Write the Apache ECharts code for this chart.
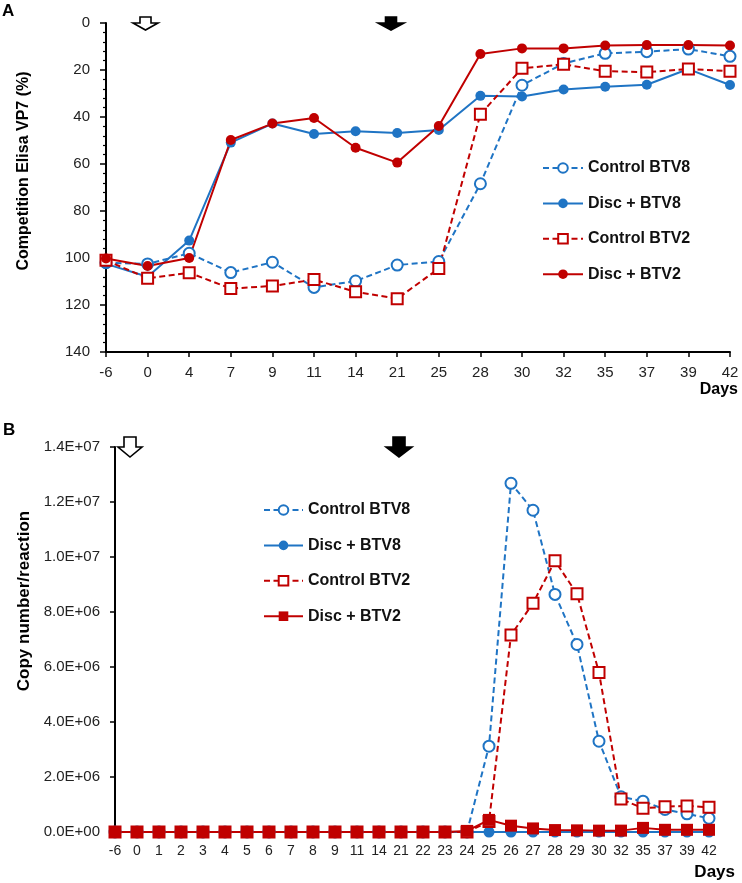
<!DOCTYPE html>
<html>
<head>
<meta charset="utf-8">
<script src="https://cdn.jsdelivr.net/npm/echarts@6/dist/echarts.min.js"></script>
<style>
html,body{margin:0;padding:0;background:#fff;}
#chart{width:742px;height:883px;}
</style>
</head>
<body>
<div id="chart"></div>
<script>
// ---- Panel A data (Competition ELISA VP7 %) ----
var daysA = ['-6','0','4','7','9','11','14','21','25','28','30','32','35','37','39','42'];
var controlBTV8_A = [102, 102.5, 98, 106.2, 101.8, 112.5, 109.8, 103, 101.5, 68.4, 26.5, 17.2, 12.9, 12.2, 11.1, 14.2];
var discBTV8_A    = [102.5, 108, 92.6, 50.9, 42.8, 47.2, 46.1, 46.8, 45.5, 31, 31.3, 28.3, 27.1, 26.3, 19.6, 26.4];
var controlBTV2_A = [101, 108.6, 106.3, 113, 111.9, 109.2, 114.4, 117.3, 104.5, 38.8, 19.3, 17.6, 20.5, 20.9, 19.6, 20.5];
var discBTV2_A    = [100.2, 103.4, 100, 49.8, 42.8, 40.4, 53.1, 59.4, 43.8, 13.2, 10.8, 10.8, 9.6, 9.4, 9.4, 9.6];
var yTicksA = {min: 0, max: 140, step: 20};

// ---- Panel B data (copy number / reaction) ----
var daysB = ['-6','0','1','2','3','4','5','6','7','8','9','11','14','21','22','23','24','25','26','27','28','29','30','32','35','37','39','42'];
var controlBTV8_B = [0,0,0,0,0,0,0,0,0,0,0,0,0,0,0,0,0, 3.12e6, 12.68e6, 11.7e6, 8.64e6, 6.82e6, 3.3e6, 1.28e6, 1.12e6, 0.82e6, 0.66e6, 0.5e6];
var discBTV8_B    = [0,0,0,0,0,0,0,0,0,0,0,0,0,0,0,0,0, 0, 0, 0, 0, 0, 0, 0, 0, 0, 0, 0];
var controlBTV2_B = [0,0,0,0,0,0,0,0,0,0,0,0,0,0,0,0,0, 0.38e6, 7.16e6, 8.32e6, 9.86e6, 8.66e6, 5.8e6, 1.2e6, 0.86e6, 0.92e6, 0.95e6, 0.9e6];
var discBTV2_B    = [0,0,0,0,0,0,0,0,0,0,0,0,0,0,0,0, 0.04e6, 0.44e6, 0.23e6, 0.13e6, 0.07e6, 0.06e6, 0.05e6, 0.05e6, 0.15e6, 0.08e6, 0.08e6, 0.08e6];
var yTicksB = {min: 0, max: 1.4e7, step: 2e6};

var BLUE = '#1F74C4';
var RED = '#C00000';
var FONT = 'Liberation Sans, Arial, sans-serif';

function sciLabel(v) {
  if (v === 0) return '0.0E+00';
  var e = Math.floor(Math.log10(v) + 1e-9);
  var m = v / Math.pow(10, e);
  return m.toFixed(1) + 'E+' + (e < 10 ? '0' + e : e);
}

function mk(name, data, color, dashed, symbol, size, axis) {
  var empty = symbol.indexOf('empty') === 0;
  return {
    name: name, type: 'line', data: data,
    xAxisIndex: axis, yAxisIndex: axis,
    symbol: symbol, symbolSize: size, showAllSymbol: true,
    lineStyle: {color: color, width: 2, type: dashed ? [6, 3.5] : 'solid'},
    itemStyle: {color: color, borderWidth: empty ? 1.8 : 0},
    emphasis: {disabled: true},
    z: 3
  };
}

var legendTxt = {color: '#111', fontSize: 16, lineHeight: 16, fontWeight: 'bold', fontFamily: FONT};

function arrow(cx, top, w, h, shaftW, headH, filled) {
  var hw = w / 2, sw = shaftW / 2;
  var yHead = top + h - headH;
  return {
    type: 'polygon',
    shape: {points: [[cx - sw, top], [cx + sw, top], [cx + sw, yHead], [cx + hw, yHead], [cx, top + h], [cx - hw, yHead], [cx - sw, yHead]]},
    style: {fill: filled ? '#000' : '#fff', stroke: '#000', lineWidth: 1.6},
    z: 10
  };
}

var option = {
  animation: false,
  backgroundColor: '#ffffff',
  textStyle: {fontFamily: FONT},
  grid: [
    {left: 106, top: 23, width: 624, height: 329, containLabel: false},
    {left: 115, top: 447, width: 594, height: 385, containLabel: false}
  ],
  xAxis: [
    {
      type: 'category', gridIndex: 0, data: daysA, boundaryGap: false, position: 'bottom',
      axisLine: {onZero: false, lineStyle: {color: '#000', width: 2}},
      axisTick: {show: true, length: 5, lineStyle: {color: '#000', width: 1.5}},
      axisLabel: {interval: 0, color: '#222', fontSize: 15, margin: 13, fontFamily: FONT},
      splitLine: {show: false}
    },
    {
      type: 'category', gridIndex: 1, data: daysB, boundaryGap: false, position: 'bottom',
      axisLine: {onZero: false, lineStyle: {color: '#000', width: 2}},
      axisTick: {show: true, length: 4, lineStyle: {color: '#000', width: 1.5}},
      axisLabel: {interval: 0, color: '#222', fontSize: 14, margin: 12, fontFamily: FONT},
      splitLine: {show: false}
    }
  ],
  yAxis: [
    {
      type: 'value', gridIndex: 0, inverse: true,
      min: yTicksA.min, max: yTicksA.max, interval: yTicksA.step,
      axisLine: {show: true, onZero: false, lineStyle: {color: '#000', width: 2}},
      axisTick: {show: true, length: 6, lineStyle: {color: '#000', width: 1.5}},
      minorTick: {show: true, splitNumber: 5, length: 3, lineStyle: {color: '#000', width: 1.2}},
      axisLabel: {color: '#222', fontSize: 15, margin: 16, fontFamily: FONT},
      splitLine: {show: false}
    },
    {
      type: 'value', gridIndex: 1,
      min: yTicksB.min, max: yTicksB.max, interval: yTicksB.step,
      axisLine: {show: true, onZero: false, lineStyle: {color: '#000', width: 2}},
      axisTick: {show: true, length: 5, lineStyle: {color: '#000', width: 1.5}},
      axisLabel: {color: '#222', fontSize: 15, margin: 15, fontFamily: FONT, formatter: sciLabel},
      splitLine: {show: false}
    }
  ],
  legend: [
    {
      orient: 'vertical', left: 542, top: 160, padding: 0, itemWidth: 40, itemHeight: 12, itemGap: 19.4,
      data: ['Control BTV8', 'Disc + BTV8', 'Control BTV2', 'Disc + BTV2'],
      textStyle: legendTxt, selectedMode: false
    },
    {
      orient: 'vertical', left: 263, top: 502, padding: 0, itemWidth: 39, itemHeight: 12, itemGap: 19.4,
      data: ['B:Control BTV8', 'B:Disc + BTV8', 'B:Control BTV2', 'B:Disc + BTV2'],
      formatter: function (n) { return n.replace(/^B:/, ''); },
      textStyle: legendTxt, selectedMode: false
    }
  ],
  graphic: [
    {type: 'text', left: 2, top: 3, style: {text: 'A', font: 'bold 17px ' + FONT, fill: '#000'}},
    {type: 'text', left: 3, top: 422, style: {text: 'B', font: 'bold 17px ' + FONT, fill: '#000'}},
    {type: 'text', x: 24, y: 171, rotation: Math.PI / 2, style: {text: 'Competition Elisa VP7 (%)', font: 'bold 16px ' + FONT, fill: '#000', align: 'center', verticalAlign: 'middle'}},
    {type: 'text', x: 24, y: 601, rotation: Math.PI / 2, style: {text: 'Copy number/reaction', font: 'bold 17px ' + FONT, fill: '#000', align: 'center', verticalAlign: 'middle'}},
    {type: 'text', x: 738, y: 390, style: {text: 'Days', font: 'bold 16px ' + FONT, fill: '#000', align: 'right', verticalAlign: 'middle'}},
    {type: 'text', x: 735, y: 872, style: {text: 'Days', font: 'bold 17px ' + FONT, fill: '#000', align: 'right', verticalAlign: 'middle'}},
    arrow(145.5, 17, 25, 13, 11, 7, false),
    arrow(391, 17, 26, 13, 11, 7, true),
    arrow(130, 437, 24, 20, 12, 10, false),
    arrow(399, 437, 26, 20, 12, 10, true)
  ],
  series: [
    mk('Control BTV8', controlBTV8_A, BLUE, true, 'emptyCircle', 11, 0),
    mk('Disc + BTV8', discBTV8_A, BLUE, false, 'circle', 10, 0),
    mk('Control BTV2', controlBTV2_A, RED, true, 'emptyRect', 11, 0),
    mk('Disc + BTV2', discBTV2_A, RED, false, 'circle', 10, 0),
    mk('B:Control BTV8', controlBTV8_B, BLUE, true, 'emptyCircle', 11, 1),
    mk('B:Disc + BTV8', discBTV8_B, BLUE, false, 'circle', 11, 1),
    mk('B:Control BTV2', controlBTV2_B, RED, true, 'emptyRect', 11, 1),
    mk('B:Disc + BTV2', discBTV2_B, RED, false, 'rect', 12, 1)
  ]
};

var chart = echarts.init(document.getElementById('chart'), null, {renderer: 'canvas'});
chart.setOption(option);
</script>
</body>
</html>
